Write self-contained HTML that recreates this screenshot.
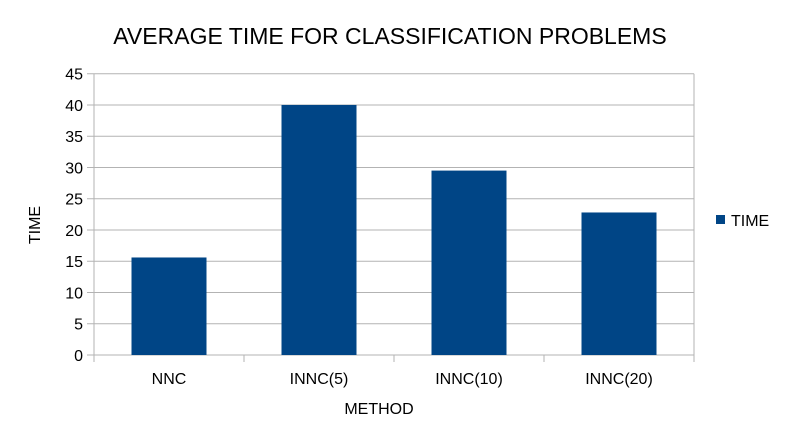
<!DOCTYPE html>
<html><head><meta charset="utf-8"><style>
body{margin:0;background:#fff;font-family:"Liberation Sans",sans-serif}
</style></head><body>
<svg id="c" width="788" height="443" xmlns="http://www.w3.org/2000/svg" font-family="Liberation Sans, sans-serif">
<rect width="788" height="443" fill="#fff"/>
<text x="390" y="44" text-anchor="middle" font-size="23" fill="#000">AVERAGE TIME FOR CLASSIFICATION PROBLEMS</text>
<g id="grid"></g><g id="bars"></g><g id="axes"></g>
<text x="379" y="414" text-anchor="middle" font-size="16">METHOD</text>
<text transform="translate(40,225) rotate(-90)" text-anchor="middle" font-size="16">TIME</text>
<g><rect x="716" y="215" width="9" height="9" fill="#004586"/><text x="731" y="226" font-size="16">TIME</text></g>
</svg>
<script>
const categories=["NNC","INNC(5)","INNC(10)","INNC(20)"];
const values=[15.6,40.0,29.5,22.8];
const ticks=[0,5,10,15,20,25,30,35,40,45];
const NS="http://www.w3.org/2000/svg";
const L=94,R=694,T=73.7,B=355,MAX=45;
const y=v=>B-(v/MAX)*(B-T);
const bw=(R-L)/categories.length;
const x=i=>L+bw*i;
function mk(t,a,p){const e=document.createElementNS(NS,t);for(const k in a)e.setAttribute(k,a[k]);p.appendChild(e);return e;}
const g=document.getElementById('grid'),b=document.getElementById('bars'),ax=document.getElementById('axes');
ticks.forEach(v=>{
 const l=mk('line',{x1:87,x2:R,y1:y(v),y2:y(v),stroke:'#b3b3b3','stroke-width':1},g);
 
 
 const t=mk('text',{x:83,y:y(v)+6,'text-anchor':'end','font-size':16},ax);
 t.textContent=v;
 
 
});
mk('line',{x1:L,x2:L,y1:T,y2:B+7,stroke:'#b3b3b3'},ax);
mk('line',{x1:R,x2:R,y1:T,y2:B,stroke:'#b3b3b3'},ax);
for(let i=0;i<=categories.length;i++)mk('line',{x1:x(i),x2:x(i),y1:B,y2:B+7,stroke:'#b3b3b3'},ax);
categories.forEach((c,i)=>{
 const r=mk('rect',{x:x(i)+bw/4,y:y(values[i]),width:bw/2,height:B-y(values[i]),fill:'#004586'},b);
 
 
 const t=mk('text',{x:x(i)+bw/2,y:384,'text-anchor':'middle','font-size':16},ax);
 t.textContent=c;
 
 
});
</script>
</body></html>
